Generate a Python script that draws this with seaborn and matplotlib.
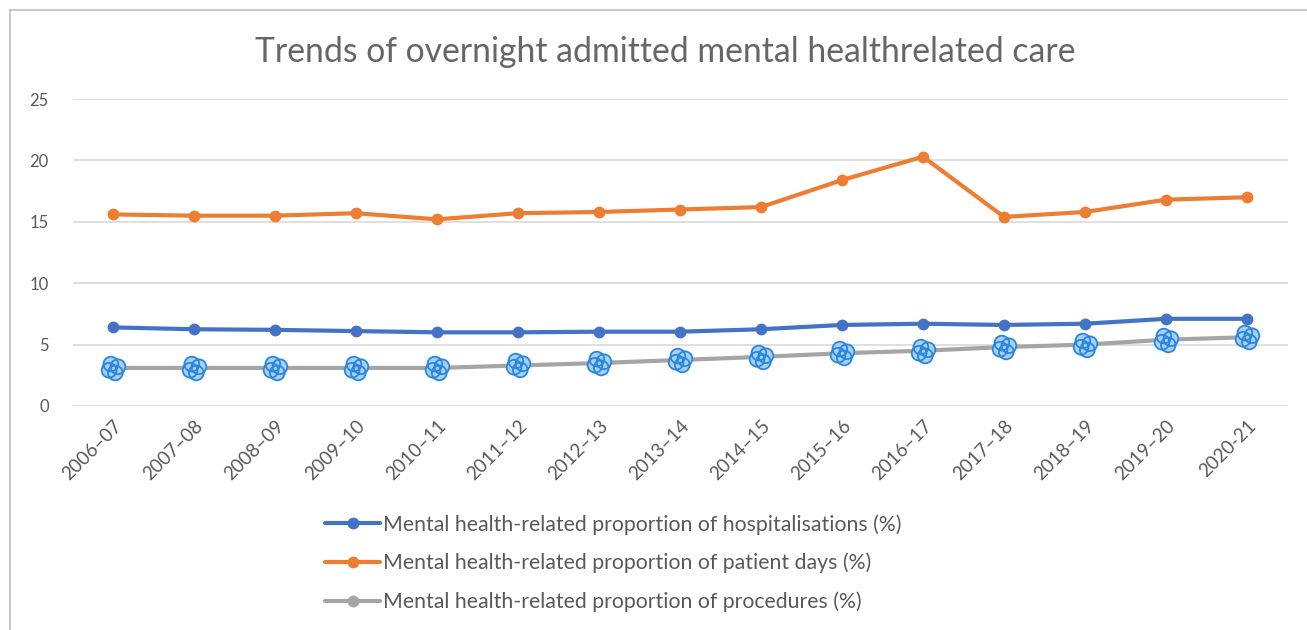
import numpy as np
import pandas as pd
import matplotlib
matplotlib.use("Agg")
import matplotlib.pyplot as plt
from matplotlib.path import Path
from matplotlib.lines import Line2D
import seaborn as sns

years = ["2006–07", "2007–08", "2008–09", "2009–10", "2010–11", "2011–12", "2012–13",
         "2013–14", "2014–15", "2015–16", "2016–17", "2017–18", "2018–19", "2019–20", "2020-21"]
hospitalisations = [6.4, 6.25, 6.2, 6.1, 6.0, 6.0, 6.05, 6.05, 6.25, 6.6, 6.7, 6.6, 6.7, 7.1, 7.1]
patient_days = [15.6, 15.5, 15.5, 15.7, 15.2, 15.7, 15.8, 16.0, 16.2, 18.4, 20.3, 15.4, 15.8, 16.8, 17.0]
procedures = [3.1, 3.1, 3.1, 3.1, 3.1, 3.3, 3.5, 3.75, 4.0, 4.3, 4.5, 4.8, 5.0, 5.4, 5.6]

labels = ["Mental health-related proportion of hospitalisations (%)",
          "Mental health-related proportion of patient days (%)",
          "Mental health-related proportion of procedures (%)"]
title = "Trends of overnight admitted mental healthrelated care"
yticks = [0, 5, 10, 15, 20, 25]

colors = ["#4472c4", "#ed7d31", "#a5a5a5"]
text_color = "#595959"

sns.set_theme(style="white")
plt.rcParams["font.family"] = ["Lato", "DejaVu Sans"]

fig = plt.figure(figsize=(13.07, 6.30), dpi=100)
ax = fig.add_axes([72.5 / 1307, 1 - 406 / 630, (1287.5 - 72.5) / 1307, (406 - 99) / 630])

x = np.arange(len(years))
df = pd.DataFrame({"x": x, "h": hospitalisations, "p": patient_days, "r": procedures})

lw = 3.0
ms = 8.5
sns.lineplot(data=df, x="x", y="h", ax=ax, color=colors[0], lw=lw, marker="o",
             markersize=ms, markeredgewidth=0, zorder=4)
sns.lineplot(data=df, x="x", y="p", ax=ax, color=colors[1], lw=lw, marker="o",
             markersize=ms, markeredgewidth=0, zorder=4)

# clover marker: four overlapping circles
circ = Path.unit_circle()
r = 0.5
d = 0.3
offs = [(-d * 0.6, d), (d, d * 0.4), (-d, -d * 0.4), (d * 0.4, -d)]
verts, codes = [], []
for ox, oy in offs:
    verts.extend([(v[0] * r + ox, v[1] * r + oy) for v in circ.vertices])
    codes.extend(circ.codes)
clover = Path(verts, codes)

sns.lineplot(data=df, x="x", y="r", ax=ax, color=colors[2], lw=lw, zorder=3)
ax.plot(df["x"], df["r"], ls="none", marker=clover, markersize=17,
        markerfacecolor="#a8d0f5", markeredgecolor="#2a87de", markeredgewidth=1.3, zorder=5)

ax.set_xlim(-0.5, len(years) - 0.5)
ax.set_ylim(0, 25)
ax.set_yticks(yticks)
ax.set_yticklabels([str(t) for t in yticks])
ax.set_xticks(x)
ax.set_xticklabels(years, rotation=45, ha="right", rotation_mode="anchor")
ax.tick_params(axis="both", colors=text_color, labelsize=12, length=0)
ax.tick_params(axis="x", labelsize=13.5, pad=8)
ax.tick_params(axis="y", pad=17)
ax.grid(axis="y", color="#d9d9d9", lw=1.2)
ax.set_axisbelow(True)
for s in ax.spines.values():
    s.set_visible(False)
ax.set_xlabel("")
ax.set_ylabel("")

fig.text(0.509, 1 - 52 / 630, title, ha="center", va="center", fontsize=24.3,
         color="#666666", fontweight="normal")

handles = [Line2D([], [], color=c, lw=lw, marker="o", markersize=ms, markeredgewidth=0)
           for c in colors]
fig.legend(handles, labels, loc="upper left", bbox_to_anchor=(325 / 1307, 1 - 514 / 630),
           frameon=False, fontsize=15.3, labelcolor=text_color, handlelength=2.6,
           handletextpad=0.12, labelspacing=0.86, borderaxespad=0, borderpad=0)

# chart-area border
fig.add_artist(Line2D([10 / 1307, 10 / 1307], [0, 1 - 10 / 630], transform=fig.transFigure,
                      color="#bfbfbf", lw=1.2))
fig.add_artist(Line2D([10 / 1307, 1], [1 - 10 / 630, 1 - 10 / 630], transform=fig.transFigure,
                      color="#bfbfbf", lw=1.2))

fig.savefig("out.png", dpi=100, facecolor="white")
